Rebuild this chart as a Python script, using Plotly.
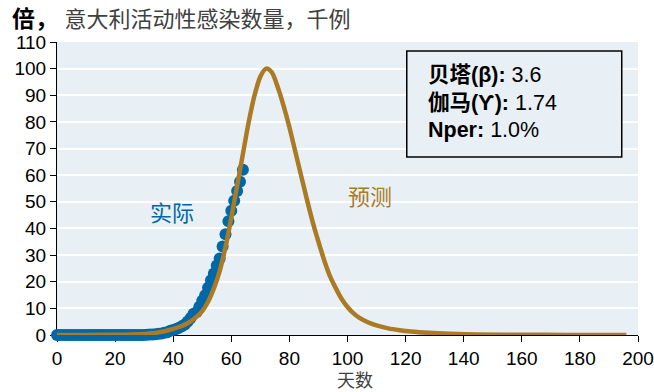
import plotly.graph_objects as go

# Italy: active infections (thousands), observed days since first case
actual_days = list(range(0, 65))
actual_vals = (
    [0.0] * 9
    + [0.002] + [0.003] * 20
    + [0.02, 0.06, 0.15, 0.22, 0.31, 0.44, 0.59, 0.82, 1.05,
       1.58, 1.84, 2.26, 2.71, 3.30, 3.92, 5.06, 6.39, 7.99, 8.51,
       10.59, 12.84, 14.96, 17.75, 20.60, 23.07, 26.06, 28.71, 33.19, 37.86,
       42.68, 46.64, 50.42, 54.03, 57.52, 62.01]
)

# Model forecast of active infections (thousands)
forecast_days = [0, 10, 20, 26, 30, 32, 34, 36, 38, 40, 42, 44, 46, 48, 50, 52, 54, 56,
                 58, 60, 62, 64, 66, 68, 70, 72, 74, 76, 78, 80, 82, 84, 86, 88, 90,
                 92, 94, 96, 98, 100, 102, 104, 107, 110, 114, 118, 122, 128, 135,
                 145, 160, 175, 196]
forecast_vals = [0, 0.02, 0.1, 0.2, 0.4, 0.55, 0.8, 1.2, 1.7, 2.3, 3.0, 3.9, 5.1, 6.8,
                 9.0, 12.5, 17.5, 24, 33, 44, 56, 68, 80, 90, 97, 100, 98.5, 93, 86,
                 78, 69, 60, 51, 42.5, 35, 28, 22, 17.5, 13.5, 10.5, 8.2, 6.5, 4.8,
                 3.6, 2.5, 1.8, 1.3, 0.8, 0.45, 0.2, 0.08, 0.03, 0.01]

x_ticks = list(range(0, 201, 20))
y_ticks = list(range(0, 111, 10))

params = [("贝塔(β):", "3.6"), ("伽马(Ƴ):", "1.74"), ("Nper:", "1.0%")]

BLUE = "#0068A6"
GOLD = "#AB7A24"
BG = "#E8F0F5"
FONT = "Liberation Sans, Arial, Noto Sans CJK SC, sans-serif"

fig = go.Figure()
fig.add_trace(go.Scatter(
    x=actual_days, y=actual_vals, mode="markers",
    marker=dict(size=12, color=BLUE, line=dict(width=0)),
    cliponaxis=False, showlegend=False, name="实际",
))
fig.add_trace(go.Scatter(
    x=forecast_days, y=forecast_vals, mode="lines",
    line=dict(color=GOLD, width=4.5, shape="spline", smoothing=0.8),
    cliponaxis=False, showlegend=False, name="预测",
))

fig.update_layout(
    width=654, height=392,
    margin=dict(l=57, r=16, t=42, b=57),
    paper_bgcolor="white",
    plot_bgcolor=BG,
    font=dict(family=FONT, size=19, color="black"),
    title=dict(
        text="<b>倍，</b> <span style='font-size:22px;font-weight:normal;color:#404040'>意大利活动性感染数量，千例</span>",
        x=12 / 654, xref="container", xanchor="left",
        y=1 - 19 / 392, yref="container", yanchor="middle",
        font=dict(size=23, color="black", family=FONT),
    ),
    xaxis=dict(
        range=[0, 200], tickvals=x_ticks, ticks="outside", ticklen=6,
        tickcolor="black", showline=True, linecolor="black", linewidth=1,
        showgrid=False, zeroline=False, layer="below traces", automargin=False,
        tickfont=dict(size=19, color="black"),
    ),
    yaxis=dict(
        range=[0, 110], tickvals=y_ticks, ticks="outside", ticklen=6,
        tickcolor="black", showline=True, linecolor="black", linewidth=1,
        showgrid=True, gridcolor="white", gridwidth=1.5, zeroline=False,
        layer="below traces", automargin=False,
        tickfont=dict(size=19, color="black"),
    ),
)

fig.add_annotation(text="天数", xref="paper", yref="paper", x=0.513, y=-0.157,
                   xanchor="center", yanchor="middle", showarrow=False,
                   font=dict(size=18, color="#404040"))
fig.add_annotation(text="实际", x=39.6, y=45.8, showarrow=False,
                   font=dict(size=22, color=BLUE))
fig.add_annotation(text="预测", x=107.7, y=51.8, showarrow=False,
                   font=dict(size=22, color=GOLD))

# parameter box
fig.add_shape(type="rect", xref="paper", yref="paper",
              x0=0.602, x1=0.972, y0=0.6075, y1=0.969,
              line=dict(color="black", width=1.5), fillcolor=BG, layer="above")
for i, (label, value) in enumerate(params):
    fig.add_annotation(text=f"<b>{label}</b> {value}", xref="paper", yref="paper",
                       x=0.635, y=[0.887, 0.792, 0.700][i], xanchor="left",
                       yanchor="middle", showarrow=False, align="left",
                       font=dict(size=21.5, color="black"))

fig.write_html("out.html")
